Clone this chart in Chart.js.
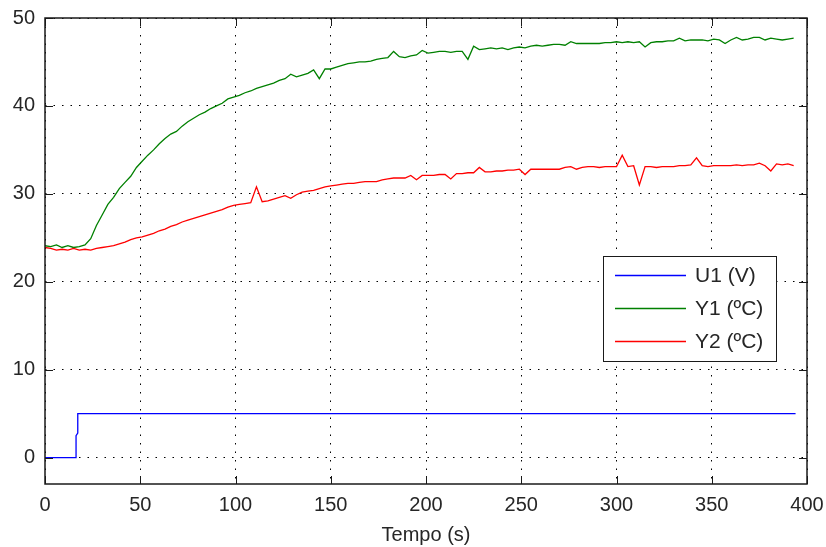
<!DOCTYPE html>
<html><head><meta charset="utf-8">
<script src="https://cdn.jsdelivr.net/npm/chart.js@4"></script>
<style>html,body{margin:0;padding:0;background:#fff}canvas{display:block}</style>
</head><body>
<canvas id="c" width="826" height="547"></canvas>
<script>
const seriesLabels = ['U1 (V)', 'Y1 (ºC)', 'Y2 (ºC)'];
const seriesColors = ['#0000FF', '#008000', '#FF0000'];
const xTicks = [0, 50, 100, 150, 200, 250, 300, 350, 400];
const yTicks = [0, 10, 20, 30, 40, 50];
const xTitle = 'Tempo (s)';

// U1 step input
const tU1 = [0, 16.3, 16.3, 17.2, 17.2, 394];
const u1  = [0, 0, 2.5, 2.8, 5, 5];

// Sample times (s) for Y1 / Y2
const time = [
  0,3,6,9,12,15,18,21,24,27,
  30,33,36,39,42,45,48,51,54,57,
  60,63,66,69,72,75,78,81,84,87,
  90,93,96,99,102,105,108,111,114,117,
  120,123,126,129,132,135,138,141,144,147,
  150,153,156,159,162,165,168,171,174,177,
  180,183,186,189,192,195,198,201,204,207,
  210,213,216,219,222,225,228,231,234,237,
  240,243,246,249,252,255,258,261,264,267,
  270,273,276,279,282,285,288,291,294,297,
  300,303,306,309,312,315,318,321,324,327,
  330,333,336,339,342,345,348,351,354,357,
  360,363,366,369,372,375,378,381,384,387,
  390,393
];
const y1 = [
  24.1,24.0,24.2,23.9,24.1,23.9,24.0,24.2,24.9,26.4,
  27.6,28.8,29.6,30.6,31.3,32.0,33.0,33.7,34.4,35.0,
  35.7,36.3,36.8,37.1,37.7,38.2,38.6,39.0,39.3,39.7,
  40.0,40.3,40.8,41.0,41.2,41.5,41.7,42.0,42.2,42.4,
  42.6,42.9,43.1,43.6,43.3,43.5,43.7,44.1,43.1,44.2,
  44.2,44.4,44.6,44.8,44.9,45.0,45.0,45.1,45.3,45.4,
  45.5,46.2,45.6,45.5,45.7,45.8,46.3,46.0,46.1,46.2,
  46.2,46.1,46.2,46.2,45.3,46.8,46.4,46.5,46.6,46.5,
  46.6,46.4,46.6,46.7,46.6,46.8,46.9,46.8,46.9,47.0,
  47.0,46.9,47.3,47.1,47.1,47.1,47.1,47.1,47.2,47.2,
  47.3,47.2,47.3,47.2,47.3,46.7,47.2,47.3,47.3,47.4,
  47.4,47.7,47.4,47.5,47.5,47.5,47.4,47.6,47.5,47.1,
  47.5,47.8,47.5,47.6,47.8,47.8,47.5,47.7,47.6,47.5,
  47.6,47.7
];
const y2 = [
  23.9,23.8,23.6,23.7,23.6,23.8,23.6,23.7,23.6,23.8,
  23.9,24.0,24.1,24.3,24.5,24.8,25.0,25.1,25.3,25.5,
  25.8,26.0,26.3,26.5,26.8,27.0,27.2,27.4,27.6,27.8,
  28.0,28.2,28.5,28.7,28.8,28.9,29.0,30.8,29.1,29.2,
  29.4,29.6,29.8,29.5,29.9,30.2,30.3,30.4,30.6,30.8,
  30.9,31.0,31.1,31.2,31.2,31.3,31.4,31.4,31.4,31.6,
  31.7,31.8,31.8,31.8,32.1,31.6,32.1,32.1,32.1,32.2,
  32.2,31.7,32.3,32.3,32.4,32.4,33.0,32.5,32.5,32.6,
  32.6,32.7,32.7,32.8,32.2,32.8,32.8,32.8,32.8,32.8,
  32.8,33.0,33.1,32.8,33.0,33.1,33.1,33.0,33.1,33.1,
  33.1,34.4,33.1,33.2,31.0,33.1,33.1,33.0,33.1,33.1,
  33.1,33.2,33.2,33.3,34.1,33.2,33.1,33.2,33.2,33.2,
  33.2,33.3,33.2,33.3,33.3,33.5,33.2,32.6,33.4,33.3,
  33.4,33.2
];

const FONT = '"Liberation Sans", Arial, Helvetica, sans-serif';
const TXT = '#262626';

const boxPlugin = {
  id: 'matlabBox',
  afterDraw(chart) {
    const {ctx, chartArea: a, scales: {x, y}} = chart;
    const L = 8;
    ctx.save();
    ctx.strokeStyle = '#1a1a1a';
    ctx.lineWidth = 1;
    ctx.beginPath();
    xTicks.forEach(v => {
      const px = Math.round(x.getPixelForValue(v)) + 0.5;
      ctx.moveTo(px, a.bottom); ctx.lineTo(px, a.bottom - L);
      ctx.moveTo(px, a.top); ctx.lineTo(px, a.top + L);
    });
    yTicks.forEach(v => {
      const py = Math.round(y.getPixelForValue(v)) + 0.5;
      ctx.moveTo(a.left, py); ctx.lineTo(a.left + L, py);
      ctx.moveTo(a.right, py); ctx.lineTo(a.right - L, py);
    });
    ctx.stroke();
    ctx.lineWidth = 1.5;
    ctx.strokeRect(a.left, a.top, a.right - a.left, a.bottom - a.top);

    // legend
    const lx = a.right - 204, ly = a.top + 238, lw = 173, lh = 105;
    ctx.fillStyle = '#fff';
    ctx.fillRect(lx, ly, lw, lh);
    ctx.lineWidth = 1;
    ctx.strokeStyle = '#1a1a1a';
    ctx.strokeRect(lx + 0.5, ly + 0.5, lw, lh);
    ctx.font = '21px ' + FONT;
    ctx.textBaseline = 'middle';
    ctx.textAlign = 'left';
    chart.data.datasets.forEach((ds, i) => {
      const ry = ly + 19 + i * 33 + 0.5;
      ctx.strokeStyle = ds.borderColor;
      ctx.lineWidth = 1.3;
      ctx.beginPath();
      ctx.moveTo(lx + 12, ry); ctx.lineTo(lx + 83, ry);
      ctx.stroke();
      ctx.fillStyle = TXT;
      ctx.fillText(ds.label, lx + 92, ry + 1);
    });
    ctx.restore();
  }
};

const mk = (ts, vs) => ts.map((t, i) => ({x: t, y: vs[i]}));

new Chart(document.getElementById('c'), {
  type: 'line',
  data: {
    datasets: [
      {label: seriesLabels[0], data: mk(tU1, u1), borderColor: seriesColors[0], order: 3},
      {label: seriesLabels[1], data: mk(time, y1), borderColor: seriesColors[1], order: 2},
      {label: seriesLabels[2], data: mk(time, y2), borderColor: seriesColors[2], order: 1}
    ]
  },
  options: {
    responsive: false,
    animation: false,
    events: [],
    layout: {padding: {top: 18, right: 19, bottom: 0, left: 0}},
    elements: {
      line: {borderWidth: 1.3, tension: 0, fill: false},
      point: {radius: 0}
    },
    plugins: {legend: {display: false}, tooltip: {enabled: false}},
    scales: {
      x: {
        type: 'linear', min: 0, max: 400,
        afterBuildTicks: s => { s.ticks = xTicks.map(v => ({value: v})); },
        afterFit: s => { s.height = 63; s.paddingLeft = 0; s.paddingRight = 0; },
        grid: {color: '#000', lineWidth: 1, drawTicks: false},
        border: {display: false, dash: [1.5, 7]},
        ticks: {padding: 9, color: TXT, font: {family: FONT, size: 20}, maxRotation: 0},
        title: {display: true, text: xTitle, color: TXT, font: {family: FONT, size: 20}, padding: {top: 0, bottom: 0}}
      },
      y: {
        type: 'linear', min: -3, max: 50,
        afterBuildTicks: s => { s.ticks = yTicks.map(v => ({value: v})); },
        afterFit: s => { s.width = 45; s.paddingTop = 0; s.paddingBottom = 0; },
        grid: {color: '#000', lineWidth: 1, drawTicks: false},
        border: {display: false, dash: [1.5, 7]},
        ticks: {padding: 10, color: TXT, font: {family: FONT, size: 20}}
      }
    }
  },
  plugins: [boxPlugin]
});
</script>
</body></html>
